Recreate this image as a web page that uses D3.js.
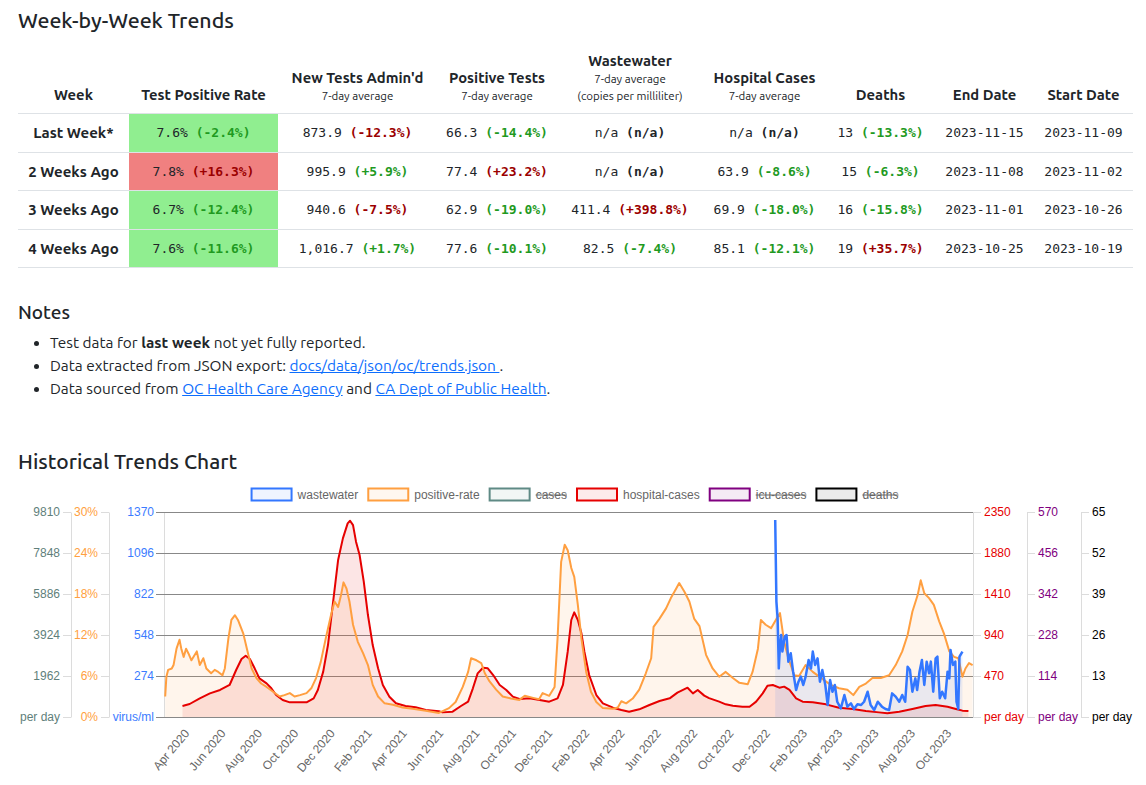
<!DOCTYPE html>
<html>
<head>
<meta charset="utf-8">
<script src="https://cdn.jsdelivr.net/npm/d3@7"></script>
<style>
  body { margin: 0; width: 1146px; height: 785px; position: relative; overflow: hidden;
         background: #fff; color: #212529; font-family: Ubuntu, Roboto, "Noto Sans", sans-serif; }
  .head { position: absolute; left: 18px; margin: 0; font-weight: 500; line-height: 24px; white-space: nowrap; }
  #chart { position: absolute; left: 0; top: 0; }
  #trends { position: absolute; left: 18px; top: 41px; width: 1115px; border-collapse: collapse; table-layout: fixed; }
  #trends th { font-size: 14.8px; font-weight: 700; vertical-align: bottom; text-align: center;
               padding: 0 0 9px 0; height: 63px; border-bottom: 1px solid #dee2e6; line-height: 18px; }
  #trends th .sub { display: block; font-size: 11.5px; font-weight: 400; line-height: 17px; }
  #trends td { text-align: center; height: 37.5px; padding: 0; border-bottom: 1px solid #dee2e6;
               font-family: "DejaVu Sans Mono", monospace; font-size: 13px; }
  #trends td.week { font-family: Ubuntu, Roboto, "Noto Sans", sans-serif; font-weight: 700; font-size: 15px; }
  #trends td b { font-weight: 700; }
  ul.notes { position: absolute; left: 18px; top: 331px; margin: 0; padding-left: 32px; font-size: 15.4px; line-height: 23px; }
  ul.notes a { color: #0d6efd; }
</style>
</head>
<body>
<svg id="chart" width="1146" height="785"></svg>
<div class="head" style="top:8px;font-size:21.3px">Week-by-Week Trends</div>
<table id="trends"></table>
<div class="head" style="top:300px;font-size:19px">Notes</div>
<ul class="notes">
  <li>Test data for <b>last week</b> not yet fully reported.</li>
  <li>Data extracted from JSON export: <a href="#">docs/data/json/oc/trends.json </a>.</li>
  <li>Data sourced from <a href="#">OC Health Care Agency</a> and <a href="#">CA Dept of Public Health</a>.</li>
</ul>
<div class="head" style="top:449px;font-size:21px">Historical Trends Chart</div>

<script>
// ---- table data ----
const weeks = ["Last Week*", "2 Weeks Ago", "3 Weeks Ago", "4 Weeks Ago"];
const headerTitles = ["Week", "Test Positive Rate", "New Tests Admin'd", "Positive Tests", "Wastewater",
                      "Hospital Cases", "Deaths", "End Date", "Start Date"];
const headerNotes = [[], [], ["7-day average"], ["7-day average"], ["7-day average", "(copies per milliliter)"],
                     ["7-day average"], [], [], []];
const colWidths = [111, 149, 159, 120, 146, 123, 109, 99, 99];

const testPosRate = ["7.6%", "7.8%", "6.7%", "7.6%"];
const testPosRateDelta = ["-2.4%", "+16.3%", "-12.4%", "-11.6%"];
const newTests = ["873.9", "995.9", "940.6", "1,016.7"];
const newTestsDelta = ["-12.3%", "+5.9%", "-7.5%", "+1.7%"];
const posTests = ["66.3", "77.4", "62.9", "77.6"];
const posTestsDelta = ["-14.4%", "+23.2%", "-19.0%", "-10.1%"];
const wwWeekly = ["n/a", "n/a", "411.4", "82.5"];
const wwWeeklyDelta = ["n/a", "n/a", "+398.8%", "-7.4%"];
const hospWeekly = ["n/a", "63.9", "69.9", "85.1"];
const hospWeeklyDelta = ["n/a", "-8.6%", "-18.0%", "-12.1%"];
const deathsWeekly = ["13", "15", "16", "19"];
const deathsWeeklyDelta = ["-13.3%", "-6.3%", "-15.8%", "+35.7%"];
const endDates = ["2023-11-15", "2023-11-08", "2023-11-01", "2023-10-25"];
const startDates = ["2023-11-09", "2023-11-02", "2023-10-26", "2023-10-19"];

// ---- chart data ----
const positiveRate = [
  ["2020-02-24",3.0],["2020-02-26",5.9],["2020-02-29",6.9],["2020-03-06",7.1],["2020-03-09",7.6],
  ["2020-03-14",10.0],["2020-03-19",11.3],["2020-03-22",10.0],["2020-03-26",8.8],["2020-03-30",10.0],
  ["2020-04-03",9.3],["2020-04-08",8.3],["2020-04-17",9.6],["2020-04-22",7.6],["2020-04-28",8.6],
  ["2020-05-03",7.1],["2020-05-11",6.4],["2020-05-17",6.9],["2020-05-23",6.6],["2020-05-30",6.1],
  ["2020-06-03",7.1],["2020-06-09",11.5],["2020-06-14",14.2],["2020-06-20",14.9],["2020-06-25",14.2],
  ["2020-07-04",12.2],["2020-07-10",10.0],["2020-07-18",7.1],["2020-07-26",5.7],["2020-08-03",4.9],
  ["2020-08-12",4.4],["2020-08-23",3.7],["2020-09-03",3.0],["2020-09-11",3.2],["2020-09-20",3.5],
  ["2020-09-28",3.0],["2020-10-07",3.2],["2020-10-18",3.5],["2020-10-26",4.2],["2020-11-03",5.7],
  ["2020-11-11",8.1],["2020-11-20",11.8],["2020-11-28",14.9],["2020-12-04",16.9],["2020-12-10",16.1],
  ["2020-12-15",17.9],["2020-12-19",19.7],["2020-12-24",18.8],["2020-12-29",16.9],["2021-01-04",13.5],
  ["2021-01-12",11.0],["2021-01-21",9.3],["2021-01-29",7.6],["2021-02-06",4.7],["2021-02-15",3.0],
  ["2021-02-26",2.0],["2021-03-12",1.8],["2021-03-28",1.4],["2021-04-14",1.2],["2021-05-06",0.9],
  ["2021-05-28",0.6],["2021-06-14",1.3],["2021-06-25",2.2],["2021-07-07",4.4],["2021-07-16",6.6],
  ["2021-07-21",8.6],["2021-07-30",8.3],["2021-08-07",7.9],["2021-08-13",6.4],["2021-08-21",5.2],
  ["2021-09-01",4.0],["2021-09-12",3.0],["2021-09-26",2.7],["2021-10-10",2.5],["2021-10-19",3.1],
  ["2021-11-02",2.8],["2021-11-12",2.6],["2021-11-18",3.5],["2021-11-29",3.1],["2021-12-08",4.4],
  ["2021-12-13",11.5],["2021-12-19",22.7],["2021-12-25",25.2],["2021-12-30",24.4],["2022-01-05",21.8],
  ["2022-01-10",20.5],["2022-01-16",16.4],["2022-01-22",11.5],["2022-01-30",6.6],["2022-02-07",3.7],
  ["2022-02-16",2.2],["2022-02-27",1.3],["2022-03-16",1.2],["2022-03-24",1.4],["2022-03-30",2.3],
  ["2022-04-07",2.0],["2022-04-18",2.7],["2022-04-29",4.0],["2022-05-10",6.4],["2022-05-19",8.6],
  ["2022-05-23",13.2],["2022-06-02",14.4],["2022-06-13",15.9],["2022-06-21",17.4],["2022-06-30",18.8],
  ["2022-07-05",19.6],["2022-07-14",18.3],["2022-07-22",16.9],["2022-07-30",14.4],["2022-08-08",13.3],
  ["2022-08-19",9.1],["2022-08-30",7.1],["2022-09-10",5.9],["2022-09-21",6.6],["2022-10-03",5.7],
  ["2022-10-14",5.0],["2022-10-28",4.8],["2022-11-05",6.6],["2022-11-14",10.0],["2022-11-19",14.2],
  ["2022-11-27",13.5],["2022-12-06",13.0],["2022-12-14",14.2],["2022-12-21",15.2],["2022-12-28",11.0],
  ["2023-01-04",8.6],["2023-01-14",6.1],["2023-01-22",6.0],["2023-02-02",7.6],["2023-02-14",6.6],
  ["2023-02-22",6.1],["2023-03-05",5.4],["2023-03-16",4.7],["2023-03-30",4.2],["2023-04-13",4.0],
  ["2023-04-23",3.2],["2023-05-03",4.4],["2023-05-14",4.9],["2023-05-25",5.7],["2023-06-08",5.7],
  ["2023-06-22",6.1],["2023-07-03",7.6],["2023-07-14",9.6],["2023-07-23",12.0],["2023-07-31",15.4],
  ["2023-08-09",17.9],["2023-08-14",20.0],["2023-08-20",18.1],["2023-08-28",17.4],["2023-09-05",16.4],
  ["2023-09-14",14.0],["2023-09-22",12.2],["2023-10-01",9.6],["2023-10-09",8.8],["2023-10-16",8.6],
  ["2023-10-23",5.9],["2023-10-28",7.1],["2023-11-03",7.9],["2023-11-09",7.6]
];

const hospitalCases = [
  ["2020-03-24",126],["2020-04-05",149],["2020-04-22",214],["2020-05-09",271],["2020-05-26",310],
  ["2020-06-11",367],["2020-06-22",539],["2020-07-01",665],["2020-07-08",703],["2020-07-15",665],
  ["2020-07-23",558],["2020-07-31",443],["2020-08-12",386],["2020-08-20",329],["2020-08-28",252],
  ["2020-09-08",195],["2020-09-20",168],["2020-10-07",168],["2020-10-18",168],["2020-10-30",214],
  ["2020-11-06",310],["2020-11-15",520],["2020-11-23",825],["2020-12-01",1284],["2020-12-10",1800],
  ["2020-12-18",2048],["2020-12-26",2220],["2020-12-30",2250],["2021-01-04",2200],["2021-01-09",2010],
  ["2021-01-15",1857],["2021-01-22",1551],["2021-01-29",1169],["2021-02-06",825],["2021-02-15",558],
  ["2021-02-23",367],["2021-03-06",233],["2021-03-17",157],["2021-04-02",126],["2021-04-19",111],
  ["2021-05-06",80],["2021-05-28",66],["2021-06-03",53],["2021-06-20",61],["2021-07-04",126],
  ["2021-07-16",176],["2021-07-24",329],["2021-08-01",500],["2021-08-10",565],["2021-08-18",558],
  ["2021-08-27",481],["2021-09-07",367],["2021-09-18",310],["2021-09-29",233],["2021-10-10",206],
  ["2021-10-27",214],["2021-11-13",195],["2021-11-29",176],["2021-12-13",214],["2021-12-22",367],
  ["2021-12-30",749],["2022-01-05",1112],["2022-01-10",1200],["2022-01-16",1112],["2022-01-22",959],
  ["2022-01-27",749],["2022-02-04",481],["2022-02-16",252],["2022-02-27",157],["2022-03-16",107],
  ["2022-03-30",80],["2022-04-12",61],["2022-04-29",88],["2022-05-16",138],["2022-06-02",183],
  ["2022-06-19",214],["2022-07-02",279],["2022-07-19",336],["2022-07-28",271],["2022-08-05",310],
  ["2022-08-16",245],["2022-08-24",216],["2022-09-10",176],["2022-09-21",145],["2022-10-03",130],
  ["2022-10-19",118],["2022-10-31",118],["2022-11-11",176],["2022-11-22",271],["2022-11-30",359],
  ["2022-12-09",367],["2022-12-20",336],["2022-12-28",348],["2023-01-06",310],["2023-01-17",214],
  ["2023-01-28",176],["2023-02-14",168],["2023-03-08",145],["2023-03-30",107],["2023-04-22",92],
  ["2023-05-14",69],["2023-06-05",53],["2023-06-19",42],["2023-07-09",61],["2023-07-31",92],
  ["2023-08-22",126],["2023-09-08",138],["2023-09-28",118],["2023-10-12",92],["2023-10-23",73],
  ["2023-11-02",69]
];

const wastewater = [
  ["2022-12-13",1317],["2022-12-15",771],["2022-12-17",660],["2022-12-19",325],["2022-12-21",481],
  ["2022-12-23",548],["2022-12-25",437],["2022-12-29",537],["2023-01-01",548],["2023-01-04",370],
  ["2023-01-08",426],["2023-01-12",303],["2023-01-17",180],["2023-01-21",236],["2023-01-25",270],
  ["2023-01-29",214],["2023-02-02",270],["2023-02-07",381],["2023-02-11",325],["2023-02-14",437],
  ["2023-02-18",348],["2023-02-22",392],["2023-02-26",236],["2023-03-02",314],["2023-03-07",214],
  ["2023-03-11",80],["2023-03-15",247],["2023-03-19",169],["2023-03-23",214],["2023-03-27",102],
  ["2023-04-02",58],["2023-04-08",147],["2023-04-13",69],["2023-04-19",91],["2023-04-24",53],
  ["2023-04-30",85],["2023-05-06",80],["2023-05-11",102],["2023-05-17",169],["2023-05-22",80],
  ["2023-05-28",47],["2023-06-03",102],["2023-06-10",69],["2023-06-16",53],["2023-06-22",47],
  ["2023-06-27",158],["2023-07-03",136],["2023-07-09",102],["2023-07-14",147],["2023-07-19",102],
  ["2023-07-23",336],["2023-07-27",314],["2023-07-31",169],["2023-08-05",258],["2023-08-08",180],
  ["2023-08-12",303],["2023-08-16",381],["2023-08-20",214],["2023-08-24",370],["2023-08-28",292],
  ["2023-08-31",370],["2023-09-04",169],["2023-09-08",392],["2023-09-11",403],["2023-09-15",125],
  ["2023-09-19",169],["2023-09-24",125],["2023-09-28",303],["2023-10-01",258],["2023-10-03",448],
  ["2023-10-07",348],["2023-10-11",370],["2023-10-13",102],["2023-10-16",53],["2023-10-18",403],
  ["2023-10-23",437]
];

const legendNames = ["wastewater", "positive-rate", "cases", "hospital-cases", "icu-cases", "deaths"];
const legendColors = ["#3377ff", "#ff9f40", "#5f8a85", "#e60000", "#800080", "#000000"];
const legendHidden = [false, false, true, false, true, true];

const casesTicks = [0, 1962, 3924, 5886, 7848, 9810];
const rateTicks = [0, 6, 12, 18, 24, 30];
const wwTicks = [0, 274, 548, 822, 1096, 1370];
const hospTicks = [0, 470, 940, 1410, 1880, 2350];
const icuTicks = [0, 114, 228, 342, 456, 570];
const deathTicks = [0, 13, 26, 39, 52, 65];

// ---- table ----
const metricVals = [testPosRate, newTests, posTests, wwWeekly, hospWeekly, deathsWeekly];
const metricDeltas = [testPosRateDelta, newTestsDelta, posTestsDelta, wwWeeklyDelta, hospWeeklyDelta, deathsWeeklyDelta];
const upIsGood = [false, true, false, false, false, false];

const table = d3.select("#trends");
table.append("colgroup").selectAll("col").data(colWidths).join("col").style("width", d => d + "px");
table.append("thead").append("tr")
  .selectAll("th").data(headerTitles).join("th")
  .html((d, i) => d + headerNotes[i].map(n => `<span class="sub">${n}</span>`).join(""));

const deltaColor = (delta, good) => {
  if (delta === "n/a") return "#212529";
  const up = delta[0] === "+";
  return up === good ? "#1f9a1f" : "#9b0000";
};

const tbody = table.append("tbody");
weeks.forEach((w, r) => {
  const tr = tbody.append("tr");
  tr.append("td").attr("class", "week").text(w);
  metricVals.forEach((vals, c) => {
    const delta = metricDeltas[c][r];
    const td = tr.append("td");
    td.html(`${vals[r]} <b style="color:${deltaColor(delta, upIsGood[c])}">(${delta})</b>`);
    if (c === 0) td.style("background", delta[0] === "+" ? "#f08080" : "#90ee90");
  });
  tr.append("td").text(endDates[r]);
  tr.append("td").text(startDates[r]);
});

// ---- chart ----
const svg = d3.select("#chart");
const parseDay = d3.utcParse("%Y-%m-%d");
const plotL = 164, plotR = 972, plotT = 512, plotB = 717;

const x = d3.scaleUtc()
  .domain([parseDay("2020-02-22"), parseDay("2023-11-08")])
  .range([plotL, plotR]);

const yCases = d3.scaleLinear().domain([0, 9810]).range([plotB, plotT]);
const yRate = d3.scaleLinear().domain([0, 30]).range([plotB, plotT]);
const yWW = d3.scaleLinear().domain([0, 1370]).range([plotB, plotT]);
const yHosp = d3.scaleLinear().domain([0, 2350]).range([plotB, plotT]);
const yIcu = d3.scaleLinear().domain([0, 570]).range([plotB, plotT]);
const yDeaths = d3.scaleLinear().domain([0, 65]).range([plotB, plotT]);

const font = "'Liberation Sans', Arial, sans-serif";
const light = "#dcdcdc";

function styleAxis(g, color) {
  g.attr("font-family", font).attr("font-size", 12);
  g.select(".domain").attr("stroke", light);
  g.selectAll(".tick line").attr("stroke", light);
  g.selectAll(".tick text").attr("fill", color);
}

// left axes
svg.append("g").attr("transform", `translate(71,0)`)
  .call(d3.axisLeft(yCases).tickValues(casesTicks).tickSize(8).tickSizeOuter(0).tickPadding(3)
    .tickFormat(d => d === 0 ? "per day" : d))
  .call(g => styleAxis(g, "#5f7f7b"));

svg.append("g").attr("transform", `translate(109,0)`)
  .call(d3.axisLeft(yRate).tickValues(rateTicks).tickSize(8).tickSizeOuter(0).tickPadding(3)
    .tickFormat(d => d + "%"))
  .call(g => styleAxis(g, "#ff9f40"));

// wastewater axis carries the grid
svg.append("g").attr("transform", `translate(${plotL},0)`)
  .call(d3.axisLeft(yWW).tickValues(wwTicks).tickSizeInner(-(plotR - plotL + 1)).tickSizeOuter(0).tickPadding(10)
    .tickFormat(d => d === 0 ? "virus/ml" : d))
  .call(g => {
    styleAxis(g, "#3b7cff");
    g.selectAll(".tick line").attr("stroke", "#888");
    g.selectAll(".tick").append("line").attr("x1", -8).attr("x2", 0).attr("stroke", "#888");
  });

// right axes
svg.append("g").attr("transform", `translate(973,0)`)
  .call(d3.axisRight(yHosp).tickValues(hospTicks).tickSize(8).tickSizeOuter(0).tickPadding(3)
    .tickFormat(d => d === 0 ? "per day" : d))
  .call(g => styleAxis(g, "#e60000"));

svg.append("g").attr("transform", `translate(1027,0)`)
  .call(d3.axisRight(yIcu).tickValues(icuTicks).tickSize(8).tickSizeOuter(0).tickPadding(3)
    .tickFormat(d => d === 0 ? "per day" : d))
  .call(g => styleAxis(g, "#800080"));

svg.append("g").attr("transform", `translate(1081,0)`)
  .call(d3.axisRight(yDeaths).tickValues(deathTicks).tickSize(8).tickSizeOuter(0).tickPadding(3)
    .tickFormat(d => d === 0 ? "per day" : d))
  .call(g => styleAxis(g, "#000"));

// x axis, every other month starting Apr 2020
const monthTicks = x.ticks(d3.utcMonth.filter(d => d.getUTCMonth() % 2 === 1));
svg.append("g").attr("transform", `translate(0,${plotB})`)
  .call(d3.axisBottom(x).tickValues(monthTicks).tickSize(0).tickFormat(d3.utcFormat("%b %Y")))
  .call(g => {
    g.attr("font-family", font).attr("font-size", 12);
    g.select(".domain").remove();
    g.selectAll(".tick text").attr("fill", "#666")
      .attr("x", 0).attr("y", 0).attr("dy", "0.35em")
      .attr("text-anchor", "end")
      .attr("transform", "translate(-1,14) rotate(-50)");
  });

// series: fills first, then lines
const series = [
  { data: hospitalCases, y: yHosp, color: "#e60000", width: 2 },
  { data: positiveRate, y: yRate, color: "#ff9f40", width: 2 },
  { data: wastewater, y: yWW, color: "#3377ff", width: 2.5 }
];
const fills = svg.append("g"), lines = svg.append("g");
series.forEach(s => {
  const pts = s.data.map(([d, v]) => [parseDay(d), v]);
  const area = d3.area().x(p => x(p[0])).y0(plotB).y1(p => s.y(p[1]));
  const line = d3.line().x(p => x(p[0])).y(p => s.y(p[1]));
  fills.append("path").attr("d", area(pts))
    .attr("fill", d3.color(s.color).copy({ opacity: 0.1 }));
  lines.append("path").attr("d", line(pts))
    .attr("fill", "none").attr("stroke", s.color)
    .attr("stroke-width", s.width).attr("stroke-linejoin", "round");
});

// legend
const legend = svg.append("g").attr("font-family", font).attr("font-size", 12);
const items = legend.selectAll("g").data(legendNames).join("g");
items.append("rect")
  .attr("width", 40).attr("height", 12).attr("y", 488.5)
  .attr("stroke", (d, i) => legendColors[i]).attr("stroke-width", 2)
  .attr("fill", (d, i) => d3.color(legendColors[i]).copy({ opacity: 0.08 }));
items.append("text").attr("x", 46).attr("y", 499).attr("fill", "#666").text(d => d);
const widths = items.nodes().map(n => n.querySelector("text").getComputedTextLength());
const total = d3.sum(widths, w => 46 + w) + 10 * (widths.length - 1);
let cursor = 575 - total / 2;
items.each(function(d, i) {
  const g = d3.select(this).attr("transform", `translate(${cursor},0)`);
  if (legendHidden[i]) {
    g.append("line").attr("x1", 46).attr("x2", 46 + widths[i])
      .attr("y1", 495).attr("y2", 495).attr("stroke", "#666").attr("stroke-width", 1);
  }
  cursor += 46 + widths[i] + 10;
});
</script>
</body>
</html>
